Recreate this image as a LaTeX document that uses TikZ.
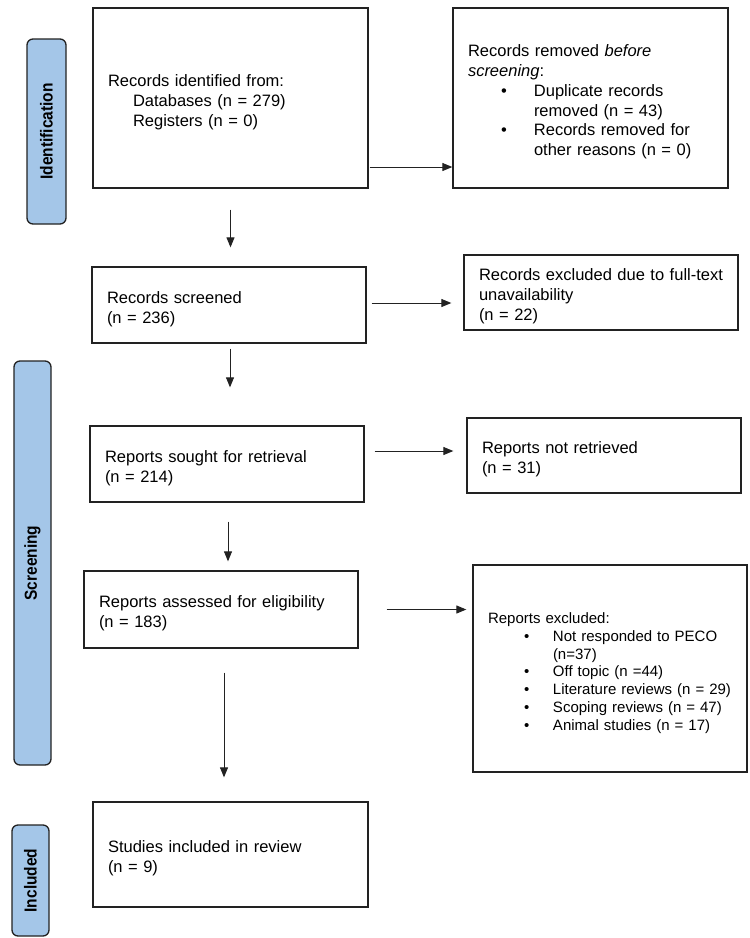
\documentclass[tikz,border=0pt]{standalone}
\usepackage{fontspec}
\setmainfont{Liberation Sans}
\usetikzlibrary{arrows.meta,calc}
\definecolor{labfill}{HTML}{A4C6E8}
\definecolor{linecol}{HTML}{222222}
\newcommand{\bli}[2]{\makebox[#1][l]{\hspace{#2}\textbullet}}
\newcommand{\labtext}[1]{\scalebox{1}[1.12]{#1}}
\begin{document}
\begin{tikzpicture}[x=1pt,y=-1pt,
  box/.style={draw=linecol,line width=1.3pt,rectangle,inner xsep=15pt,inner ysep=0pt,align=left,
    font=\fontsize{16.5}{19.8}\selectfont,execute at begin node={\rule{0pt}{20pt}}},
  lab/.style={draw=linecol,line width=1.3pt,fill=labfill,rounded corners=6pt,rotate=90,
    font=\fontsize{15.5}{18}\selectfont\bfseries,inner sep=0pt},
  arr/.style={draw=linecol,line width=1pt,-{Triangle[length=10pt,width=8pt]}}]
\useasboundingbox (0,0) rectangle (750,938);

% phase labels
\node[lab,minimum width=185,minimum height=39] (lid) at (46.5,131.5) {\labtext{Identification}};
\node[lab,minimum width=404,minimum height=37] (lsc) at (32.5,563) {\labtext{Screening}};
\node[lab,minimum width=111,minimum height=37] (lin) at (30.5,880.5) {\labtext{Included}};

% boxes
\node[box,text width=245,minimum height=180] (b1) at (230.5,98)
  {Records identified from:\\
   \hspace*{25pt}Databases (n = 279)\\
   \hspace*{25pt}Registers (n = 0)};
\node[box,text width=245,minimum height=180] (b2) at (590.5,98)
  {Records removed \textit{before}\\
   \textit{screening}:\\
   \bli{66pt}{33pt}Duplicate records\\
   \hspace*{66pt}removed (n = 43)\\
   \bli{66pt}{33pt}Records removed for\\
   \hspace*{66pt}other reasons (n = 0)};
\node[box,text width=244,minimum height=76] (b3) at (229,305)
  {Records screened\\(n = 236)};
\node[box,text width=244,minimum height=75] (b4) at (601,292.5)
  {Records excluded due to full-text\\unavailability\\(n = 22)};
\node[box,text width=244,minimum height=76] (b5) at (227,464)
  {Reports sought for retrieval\\(n = 214)};
\node[box,text width=244,minimum height=75] (b6) at (604,455.5)
  {Reports not retrieved\\(n = 31)};
\node[box,text width=244,minimum height=77] (b7) at (221,609.5)
  {Reports assessed for eligibility\\(n = 183)};
\node[box,text width=244,minimum height=207,font=\fontsize{15}{17.7}\selectfont] (b8) at (610,668.5)
  {Reports excluded:\\
   \bli{65pt}{36pt}Not responded to PECO\\
   \hspace*{65pt}(n=37)\\
   \bli{65pt}{36pt}Off topic (n =44)\\
   \bli{65pt}{36pt}Literature reviews (n = 29)\\
   \bli{65pt}{36pt}Scoping reviews (n = 47)\\
   \bli{65pt}{36pt}Animal studies (n = 17)};
\node[box,text width=245,minimum height=105] (b9) at (230.5,854.5)
  {Studies included in review\\(n = 9)};

% vertical arrows
\draw[arr,shorten <=21pt,shorten >=19pt] (b1.south) -- (b1.south |- b3.north);
\draw[arr,shorten <=5pt,shorten >=38pt] ([xshift=1pt]b3.south) -- ([xshift=1pt]b3.south |- b5.north);
\draw[arr,shorten <=19pt,shorten >=9pt] ([xshift=1pt]b5.south) -- ([xshift=1pt]b5.south |- b7.north);
\draw[arr,shorten <=24pt,shorten >=24pt] ([xshift=3pt]b7.south) -- ([xshift=3pt]b7.south |- b9.north);

% horizontal arrows
\draw[arr,shorten <=1pt] ([yshift=-69pt]b1.east) -- ([yshift=-69pt]b1.east -| b2.west);
\draw[arr,shorten <=5pt,shorten >=12pt] ([yshift=2pt]b3.east) -- ([yshift=2pt]b3.east -| b4.west);
\draw[arr,shorten <=10pt,shorten >=13pt] ([yshift=13pt]b5.east) -- ([yshift=13pt]b5.east -| b6.west);
\draw[arr,shorten <=28pt,shorten >=6pt] (b7.east) -- (b7.east -| b8.west);
\end{tikzpicture}
\end{document}
